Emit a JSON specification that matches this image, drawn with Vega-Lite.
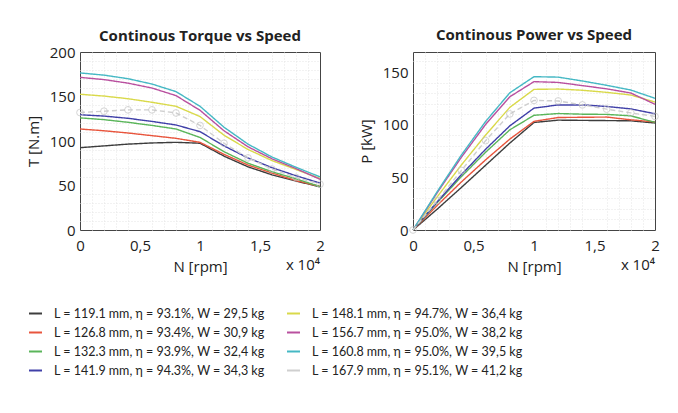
{
  "$schema": "https://vega.github.io/schema/vega-lite/v6.json",
  "background": "white",
  "padding": {"left": 25, "top": 27, "right": 8, "bottom": 8},
  "bounds": "flush",
  "config": {
    "font": "Open Sans",
    "view": {"stroke": "#444", "strokeWidth": 1},
    "axis": {
      "labelFontSize": 15, "labelColor": "#222", "titleFontSize": 15, "titleFontWeight": "normal",
      "titleColor": "#222", "ticks": false, "domain": false, "gridColor": "#cfcfcf", "gridDash": [3, 2],
      "labelOverlap": false, "labelFlush": false
    },
    "axisX": {"labelPadding": 8, "titlePadding": 6},
    "axisY": {"labelPadding": 5, "titlePadding": 8},
    "title": {"fontSize": 15, "fontWeight": "bold", "color": "#222"},
    "legend": {
      "labelFont": "Lato", "labelFontSize": 12.5, "labelColor": "#222", "symbolType": "stroke", "symbolSize": 169, "labelLimit": 400,
      "symbolStrokeWidth": 2, "labelOffset": 11, "rowPadding": 5, "columnPadding": 18
    }
  },
  "datasets": {
    "names": [
      {"id": 1, "label": "L = 119.1 mm, η = 93.1%, W = 29,5 kg"},
      {"id": 2, "label": "L = 126.8 mm, η = 93.4%, W = 30,9 kg"},
      {"id": 3, "label": "L = 132.3 mm, η = 93.9%, W = 32,4 kg"},
      {"id": 4, "label": "L = 141.9 mm, η = 94.3%, W = 34,3 kg"},
      {"id": 5, "label": "L = 148.1 mm, η = 94.7%, W = 36,4 kg"},
      {"id": 6, "label": "L = 156.7 mm, η = 95.0%, W = 38,2 kg"},
      {"id": 7, "label": "L = 160.8 mm, η = 95.0%, W = 39,5 kg"},
      {"id": 8, "label": "L = 167.9 mm, η = 95.1%, W = 41,2 kg"}
    ],
    "curves": [
      {"id": 1, "N": 0, "T": 92.5, "P": 0}, {"id": 1, "N": 2000, "T": 94.5, "P": 19.79}, {"id": 1, "N": 4000, "T": 96.5, "P": 40.42}, {"id": 1, "N": 6000, "T": 97.8, "P": 61.45}, {"id": 1, "N": 8000, "T": 98.5, "P": 82.52}, {"id": 1, "N": 10000, "T": 97.5, "P": 102.1}, {"id": 1, "N": 12000, "T": 83, "P": 104.3}, {"id": 1, "N": 14000, "T": 71, "P": 104.09}, {"id": 1, "N": 16000, "T": 62, "P": 103.88}, {"id": 1, "N": 18000, "T": 55, "P": 103.67}, {"id": 1, "N": 20000, "T": 48.5, "P": 101.58},
      {"id": 2, "N": 0, "T": 113.5, "P": 0}, {"id": 2, "N": 2000, "T": 111.5, "P": 23.35}, {"id": 2, "N": 4000, "T": 109, "P": 45.66}, {"id": 2, "N": 6000, "T": 106, "P": 66.6}, {"id": 2, "N": 8000, "T": 103, "P": 86.29}, {"id": 2, "N": 10000, "T": 98.5, "P": 103.15}, {"id": 2, "N": 12000, "T": 85, "P": 106.81}, {"id": 2, "N": 14000, "T": 73, "P": 107.02}, {"id": 2, "N": 16000, "T": 64, "P": 107.23}, {"id": 2, "N": 18000, "T": 55.5, "P": 104.62}, {"id": 2, "N": 20000, "T": 49, "P": 102.63},
      {"id": 3, "N": 0, "T": 126, "P": 0}, {"id": 3, "N": 2000, "T": 124, "P": 25.97}, {"id": 3, "N": 4000, "T": 121, "P": 50.68}, {"id": 3, "N": 6000, "T": 117.5, "P": 73.83}, {"id": 3, "N": 8000, "T": 113.5, "P": 95.09}, {"id": 3, "N": 10000, "T": 104, "P": 108.91}, {"id": 3, "N": 12000, "T": 88, "P": 110.58}, {"id": 3, "N": 14000, "T": 75, "P": 109.96}, {"id": 3, "N": 16000, "T": 65.5, "P": 109.75}, {"id": 3, "N": 18000, "T": 57.5, "P": 108.39}, {"id": 3, "N": 20000, "T": 48.8, "P": 102.21},
      {"id": 4, "N": 0, "T": 129.5, "P": 0}, {"id": 4, "N": 2000, "T": 128, "P": 26.81}, {"id": 4, "N": 4000, "T": 125.5, "P": 52.57}, {"id": 4, "N": 6000, "T": 122, "P": 76.66}, {"id": 4, "N": 8000, "T": 118, "P": 98.86}, {"id": 4, "N": 10000, "T": 110.5, "P": 115.72}, {"id": 4, "N": 12000, "T": 94.5, "P": 118.75}, {"id": 4, "N": 14000, "T": 81, "P": 118.75}, {"id": 4, "N": 16000, "T": 70, "P": 117.29}, {"id": 4, "N": 18000, "T": 61, "P": 114.98}, {"id": 4, "N": 20000, "T": 52.7, "P": 110.37},
      {"id": 5, "N": 0, "T": 152.5, "P": 0}, {"id": 5, "N": 2000, "T": 150.5, "P": 31.52}, {"id": 5, "N": 4000, "T": 147.5, "P": 61.78}, {"id": 5, "N": 6000, "T": 143.5, "P": 90.16}, {"id": 5, "N": 8000, "T": 139, "P": 116.45}, {"id": 5, "N": 10000, "T": 127.5, "P": 133.52}, {"id": 5, "N": 12000, "T": 106.5, "P": 133.83}, {"id": 5, "N": 14000, "T": 90.5, "P": 132.68}, {"id": 5, "N": 16000, "T": 78, "P": 130.69}, {"id": 5, "N": 18000, "T": 68, "P": 128.18}, {"id": 5, "N": 20000, "T": 58, "P": 121.48},
      {"id": 6, "N": 0, "T": 171.5, "P": 0}, {"id": 6, "N": 2000, "T": 169, "P": 35.4}, {"id": 6, "N": 4000, "T": 165, "P": 69.12}, {"id": 6, "N": 6000, "T": 159.5, "P": 100.22}, {"id": 6, "N": 8000, "T": 151, "P": 126.5}, {"id": 6, "N": 10000, "T": 134.5, "P": 140.85}, {"id": 6, "N": 12000, "T": 111.5, "P": 140.12}, {"id": 6, "N": 14000, "T": 93.5, "P": 137.08}, {"id": 6, "N": 16000, "T": 80, "P": 134.04}, {"id": 6, "N": 18000, "T": 69, "P": 130.06}, {"id": 6, "N": 20000, "T": 57, "P": 119.38},
      {"id": 7, "N": 0, "T": 176.5, "P": 0}, {"id": 7, "N": 2000, "T": 174, "P": 36.44}, {"id": 7, "N": 4000, "T": 170, "P": 71.21}, {"id": 7, "N": 6000, "T": 164, "P": 103.04}, {"id": 7, "N": 8000, "T": 155.5, "P": 130.27}, {"id": 7, "N": 10000, "T": 139, "P": 145.56}, {"id": 7, "N": 12000, "T": 115.5, "P": 145.14}, {"id": 7, "N": 14000, "T": 96.5, "P": 141.48}, {"id": 7, "N": 16000, "T": 82, "P": 137.39}, {"id": 7, "N": 18000, "T": 70.5, "P": 132.89}, {"id": 7, "N": 20000, "T": 59.7, "P": 125.04},
      {"id": 8, "N": 0, "T": 132, "P": 0}, {"id": 8, "N": 2000, "T": 133.5, "P": 27.96}, {"id": 8, "N": 4000, "T": 135, "P": 56.55}, {"id": 8, "N": 6000, "T": 135, "P": 84.82}, {"id": 8, "N": 8000, "T": 131.5, "P": 110.17}, {"id": 8, "N": 10000, "T": 117.5, "P": 123.05}, {"id": 8, "N": 12000, "T": 97.5, "P": 122.52}, {"id": 8, "N": 14000, "T": 81, "P": 118.75}, {"id": 8, "N": 16000, "T": 68.5, "P": 114.77}, {"id": 8, "N": 18000, "T": 59, "P": 111.21}, {"id": 8, "N": 20000, "T": 51.5, "P": 107.86}
    ]
  },
  "data": {"name": "curves"},
  "transform": [{"lookup": "id", "from": {"data": {"name": "names"}, "key": "id", "fields": ["label"]}}],
  "spacing": 93,
  "resolve": {"scale": {"color": "shared"}},
  "hconcat": [
    {
      "width": 240, "height": 178,
      "title": {"text": "Continous Torque vs Speed", "offset": 1},
      "resolve": {"axis": {"x": "independent", "y": "independent"}},
      "layer": [
        {
          "mark": {"type": "point", "opacity": 0},
          "encoding": {
            "x": {"field": "N", "type": "quantitative",
              "scale": {"domain": [0, 20000], "nice": false},
              "axis": {"orient": "bottom", "title": null, "labels": false, "gridColor": "#e4e4e4", "gridDash": [1, 2],
                "values": [1000,2000,3000,4000,6000,7000,8000,9000,11000,12000,13000,14000,16000,17000,18000,19000]}},
            "y": {"field": "T", "type": "quantitative",
              "scale": {"domain": [0, 200], "nice": false},
              "axis": {"orient": "left", "title": null, "labels": false, "gridColor": "#e4e4e4", "gridDash": [1, 2],
                "values": [10,20,30,40,60,70,80,90,110,120,130,140,160,170,180,190]}}
          }
        },
        {
          "mark": {"type": "line", "strokeWidth": 1.4},
          "encoding": {
            "x": {"field": "N", "type": "quantitative", "title": "N [rpm]",
              "scale": {"domain": [0, 20000], "nice": false},
              "axis": {"orient": "bottom", "labelOverlap": false, "values": [0, 5000, 10000, 15000, 20000],
                "labelExpr": "replace(format(datum.value / 10000, '~g'), '.', ',')"}},
            "y": {"field": "T", "type": "quantitative", "title": "T [N.m]",
              "scale": {"domain": [0, 200], "nice": false},
              "axis": {"orient": "left", "labelOverlap": false, "values": [0, 50, 100, 150, 200]}},
            "color": {"field": "label", "type": "nominal", "title": null,
              "scale": {"domain": ["L = 119.1 mm, η = 93.1%, W = 29,5 kg", "L = 126.8 mm, η = 93.4%, W = 30,9 kg", "L = 132.3 mm, η = 93.9%, W = 32,4 kg", "L = 141.9 mm, η = 94.3%, W = 34,3 kg", "L = 148.1 mm, η = 94.7%, W = 36,4 kg", "L = 156.7 mm, η = 95.0%, W = 38,2 kg", "L = 160.8 mm, η = 95.0%, W = 39,5 kg", "L = 167.9 mm, η = 95.1%, W = 41,2 kg"],
                "range": ["#3d3d3d", "#e8553d", "#5ab55a", "#4040a8", "#d9d94a", "#b9509f", "#45b8c4", "#cfcfcf"]},
              "legend": {"orient": "none", "columns": 2, "legendX": -52, "legendY": 254}},
            "strokeDash": {"condition": {"test": "datum.id === 8", "value": [5, 3]}, "value": [1, 0]}
          }
        },
        {
          "transform": [{"filter": "datum.id === 8"}],
          "mark": {"type": "point", "shape": "circle", "size": 45, "filled": false, "strokeWidth": 1, "color": "#c4c4c4"},
          "encoding": {"x": {"field": "N", "type": "quantitative", "axis": null}, "y": {"field": "T", "type": "quantitative", "axis": null}}
        },
        {
          "data": {"values": [{"t": "x 10⁴"}]},
          "mark": {"type": "text", "align": "right", "baseline": "middle", "dy": 35, "fontSize": 15, "color": "#222"},
          "encoding": {"x": {"datum": 20000, "type": "quantitative", "axis": null}, "y": {"datum": 0, "type": "quantitative", "axis": null}, "text": {"field": "t"}}
        }
      ]
    },
    {
      "width": 242, "height": 178,
      "title": {"text": "Continous Power vs Speed", "offset": 9},
      "resolve": {"axis": {"x": "independent", "y": "independent"}},
      "layer": [
        {
          "mark": {"type": "point", "opacity": 0},
          "encoding": {
            "x": {"field": "N", "type": "quantitative",
              "scale": {"domain": [0, 20000], "nice": false},
              "axis": {"orient": "bottom", "title": null, "labels": false, "gridColor": "#e4e4e4", "gridDash": [1, 2],
                "values": [1000,2000,3000,4000,6000,7000,8000,9000,11000,12000,13000,14000,16000,17000,18000,19000]}},
            "y": {"field": "P", "type": "quantitative",
              "scale": {"domain": [0, 169], "nice": false},
              "axis": {"orient": "left", "title": null, "labels": false, "gridColor": "#e4e4e4", "gridDash": [1, 2],
                "values": [10,20,30,40,60,70,80,90,110,120,130,140,160]}}
          }
        },
        {
          "mark": {"type": "line", "strokeWidth": 1.4},
          "encoding": {
            "x": {"field": "N", "type": "quantitative", "title": "N [rpm]",
              "scale": {"domain": [0, 20000], "nice": false},
              "axis": {"orient": "bottom", "labelOverlap": false, "values": [0, 5000, 10000, 15000, 20000],
                "labelExpr": "replace(format(datum.value / 10000, '~g'), '.', ',')"}},
            "y": {"field": "P", "type": "quantitative", "title": "P [kW]",
              "scale": {"domain": [0, 169], "nice": false},
              "axis": {"orient": "left", "labelOverlap": false, "values": [0, 50, 100, 150]}},
            "color": {"field": "label", "type": "nominal", "title": null},
            "strokeDash": {"condition": {"test": "datum.id === 8", "value": [5, 3]}, "value": [1, 0]}
          }
        },
        {
          "transform": [{"filter": "datum.id === 8"}],
          "mark": {"type": "point", "shape": "circle", "size": 45, "filled": false, "strokeWidth": 1, "color": "#c4c4c4"},
          "encoding": {"x": {"field": "N", "type": "quantitative", "axis": null}, "y": {"field": "P", "type": "quantitative", "axis": null}}
        },
        {
          "data": {"values": [{"t": "x 10⁴"}]},
          "mark": {"type": "text", "align": "right", "baseline": "middle", "dy": 35, "fontSize": 15, "color": "#222"},
          "encoding": {"x": {"datum": 20000, "type": "quantitative", "axis": null}, "y": {"datum": 0, "type": "quantitative", "axis": null}, "text": {"field": "t"}}
        }
      ]
    }
  ]
}
